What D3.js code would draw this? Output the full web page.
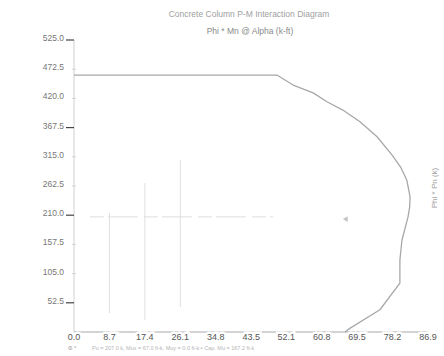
<!DOCTYPE html>
<html>
<head>
<meta charset="utf-8">
<script src="https://cdn.jsdelivr.net/npm/d3@7"></script>
<style>
  body { margin: 0; background: #fff; }
  svg { display: block; font-family: 'Liberation Sans', Arial, sans-serif; }
</style>
</head>
<body>
<div class="chart"></div>
<script>
// Chart data
const xTicks = [0.0, 8.7, 17.4, 26.1, 34.8, 43.5, 52.1, 60.8, 69.5, 78.2, 86.9];
const yTicks = [0.0, 52.5, 105.0, 157.5, 210.0, 262.5, 315.0, 367.5, 420.0, 472.5, 525.0];
const yMajor = [52.5, 210.0, 367.5, 525.0];

// interaction curve: Phi*Mn (k-ft) vs Phi*Pn (k)
const curveM = [0, 49.8, 53.8, 58.7, 62.1, 66.0, 70.2, 74.4, 78.1, 80.3, 81.7, 82.5, 82.4, 82.0, 80.5, 80.0, 80.0, 75.1, 67.8, 66.5];
const curveP = [462, 462, 444, 430, 414, 399, 378, 351, 318, 295, 273, 243, 225, 207, 165, 129, 88, 40, 7, 0];

// faint vertical guide lines (M, P from, P to)
const guideM = [8.7, 17.4, 26.1];
const guideP0 = [34, 22, 45];
const guideP1 = [214, 268, 309];

// applied load
const loadLineM = [3.9, 48.9];
const loadP = 207;
const pointM = 66.8;
const pointP = 203;

const svgWidth = 444;
const svgHeight = 356;

const xScale = d3.scaleLinear().domain([0, 86.9]).range([74, 428]);
const yScale = d3.scaleLinear().domain([0, 525]).range([332, 40]);

const svg = d3.select('.chart')
    .append('svg')
    .attr('width', svgWidth)
    .attr('height', svgHeight);

// Titles
svg.append('text')
    .attr('x', 249).attr('y', 17)
    .attr('text-anchor', 'middle')
    .attr('font-size', 8.5)
    .attr('fill', '#a0a0a0')
    .text('Concrete Column P-M Interaction Diagram');

svg.append('text')
    .attr('x', 250).attr('y', 34)
    .attr('text-anchor', 'middle')
    .attr('font-size', 8.5)
    .attr('fill', '#8a8a8a')
    .text('Phi * Mn @ Alpha  (k-ft)');

svg.append('text')
    .attr('transform', 'translate(437,188) rotate(-90)')
    .attr('text-anchor', 'middle')
    .attr('font-size', 8)
    .attr('fill', '#a0a0a0')
    .text('Phi * Pn  (k)');

// guide lines
guideM.forEach((m, i) => {
    svg.append('line')
        .attr('x1', xScale(m)).attr('x2', xScale(m))
        .attr('y1', yScale(guideP0[i])).attr('y2', yScale(guideP1[i]))
        .attr('stroke', '#e0e0e0')
        .attr('stroke-width', 1);
});

// load line
svg.append('line')
    .attr('x1', xScale(loadLineM[0])).attr('x2', xScale(loadLineM[1]))
    .attr('y1', yScale(loadP)).attr('y2', yScale(loadP))
    .attr('stroke', '#dedede')
    .attr('stroke-dasharray', '14,4,30,6')
    .attr('stroke-width', 1);

svg.append('path')
    .attr('d', d3.symbol(d3.symbolTriangle, 14)())
    .attr('transform', `translate(${xScale(pointM)},${yScale(pointP)}) rotate(-90)`)
    .attr('fill', '#c4c4c4');

// Y axis
svg.append('line')
    .attr('x1', 74).attr('x2', 74)
    .attr('y1', yScale(525)).attr('y2', yScale(0))
    .attr('stroke', '#d0d0d0')
    .attr('stroke-width', 1);

const yAxis = svg.append('g');
yAxis.selectAll('.ylab')
    .data(yTicks.filter(d => d > 0))
    .enter()
    .append('text')
    .attr('x', 64)
    .attr('y', d => yScale(d) + 1)
    .attr('text-anchor', 'end')
    .attr('font-size', 8.5)
    .attr('fill', '#777')
    .text(d => d.toFixed(1));

yAxis.selectAll('.ymaj')
    .data(yMajor)
    .enter()
    .append('line')
    .attr('x1', 66).attr('x2', 74)
    .attr('y1', d => yScale(d)).attr('y2', d => yScale(d))
    .attr('stroke', '#444')
    .attr('stroke-width', 1.2);

yAxis.selectAll('.ymin')
    .data(yTicks.filter(d => d > 0 && !yMajor.includes(d)))
    .enter()
    .append('line')
    .attr('x1', 72).attr('x2', 76)
    .attr('y1', d => yScale(d)).attr('y2', d => yScale(d))
    .attr('stroke', '#d4d4d4');

// X axis: line broken by labels
svg.append('line')
    .attr('x1', 74).attr('x2', 428)
    .attr('y1', yScale(0)).attr('y2', yScale(0))
    .attr('stroke', '#a8a8a8')
    .attr('stroke-width', 1);

svg.append('g').selectAll('text')
    .data(xTicks)
    .enter()
    .append('text')
    .attr('x', d => xScale(d))
    .attr('y', yScale(0) + 8)
    .attr('text-anchor', 'middle')
    .attr('font-size', 9)
    .attr('fill', '#555')
    .attr('stroke', '#fff')
    .attr('stroke-width', 5)
    .attr('paint-order', 'stroke')
    .text(d => d.toFixed(1));

// interaction curve
const curve = curveM.map((m, i) => [m, curveP[i]]);
const line = d3.line()
    .x(d => xScale(d[0]))
    .y(d => yScale(d[1]));

svg.append('path')
    .datum(curve)
    .attr('d', line)
    .attr('fill', 'none')
    .attr('stroke', '#a8a8a8')
    .attr('stroke-width', 1.3)
    .attr('stroke-linejoin', 'round');

// footer note
svg.append('text')
    .attr('x', 68).attr('y', 350)
    .attr('font-size', 5.5)
    .attr('fill', '#a0a0a0')
    .text('\u03A6 *');

svg.append('text')
    .attr('x', 92).attr('y', 350)
    .attr('font-size', 5.5)
    .attr('fill', '#b4b4b4')
    .text('Pu = 207.0 k,  Mux = 67.0 ft-k,  Muy = 0.0 ft-k  \u25AA  Cap.  Mu = 167.2 ft-k');
</script>
</body>
</html>
